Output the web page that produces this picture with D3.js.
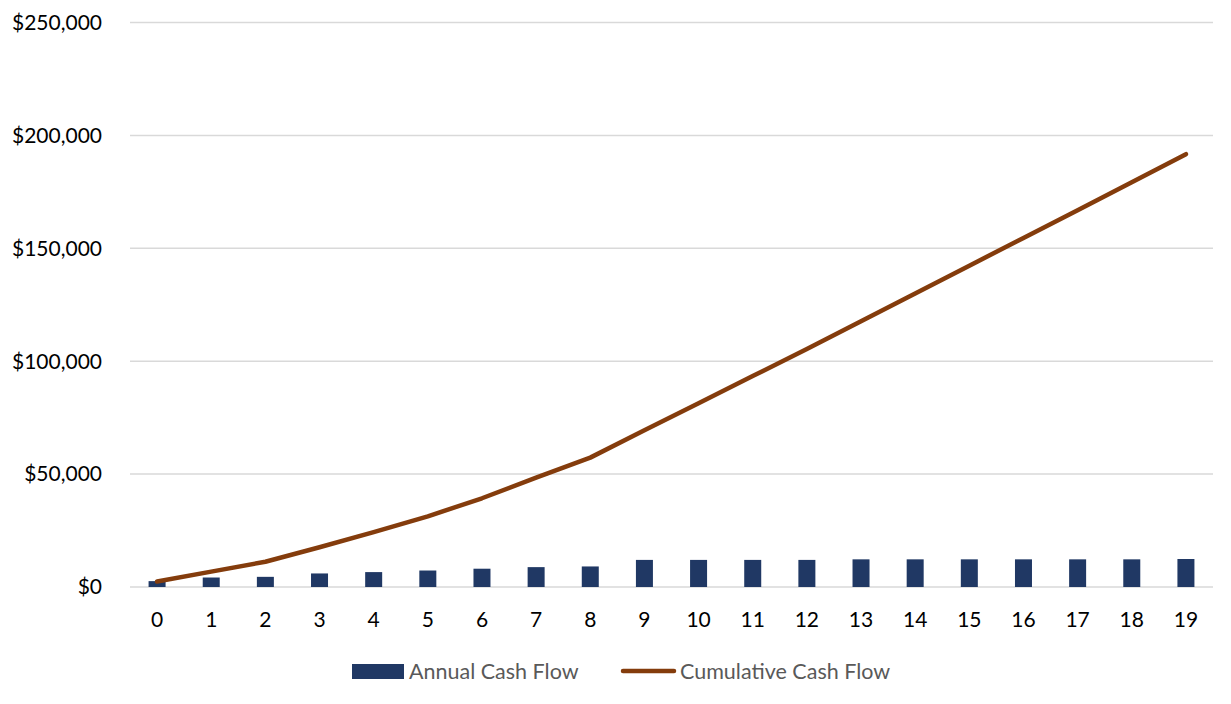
<!DOCTYPE html>
<meta charset="utf-8">
<style>
    body { margin: 0; background: #fff; }
    text { font-family: Lato, "Open Sans", sans-serif; fill: #000; }
    .grid line { stroke: #d9d9d9; stroke-width: 1.5px; }
</style>
<body>
<script src="https://d3js.org/d3.v7.min.js"></script>
<script>
    var width = 1231,
        height = 704;

    var years = d3.range(0, 20).map(String);
    var annual = [2600, 4200, 4500, 6000, 6600, 7300, 8100, 8800, 9100, 12000,
                  12000, 12000, 12000, 12250, 12250, 12250, 12250, 12250, 12250, 12400];
    var cumulative = [2400, 6800, 11200, 17600, 24300, 31300, 39300, 48400, 57300, 69400,
                      81400, 93400, 105400, 117700, 130000, 142300, 154600, 166900, 179200, 191700];
    var yTicks = [0, 50000, 100000, 150000, 200000, 250000];

    var x = d3.scaleBand().domain(years).range([130, 1213]);
    var y = d3.scaleLinear().domain([0, 250000]).range([587, 22.5]);

    var svg = d3.select("body").append("svg")
        .attr("width", width)
        .attr("height", height);

    // gridlines
    svg.append("g").attr("class", "grid")
        .selectAll("line")
        .data(yTicks)
        .enter().append("line")
        .attr("x1", 130).attr("x2", 1213)
        .attr("y1", function (d) { return y(d); })
        .attr("y2", function (d) { return y(d); });

    // y labels
    var fmt = d3.format(",");
    svg.append("g")
        .selectAll("text")
        .data(yTicks)
        .enter().append("text")
        .attr("x", 102)
        .attr("y", function (d) { return y(d); })
        .attr("dy", "0.35em")
        .attr("text-anchor", "end")
        .style("font-size", "21px")
        .text(function (d) { return "$" + fmt(d); });

    // x labels
    svg.append("g")
        .selectAll("text")
        .data(years)
        .enter().append("text")
        .attr("x", function (d) { return x(d) + x.bandwidth() / 2; })
        .attr("y", 620)
        .attr("dy", "0.35em")
        .attr("text-anchor", "middle")
        .style("font-size", "21px")
        .text(function (d) { return d; });

    // bars
    var barW = 17;
    svg.append("g")
        .selectAll("rect")
        .data(annual)
        .enter().append("rect")
        .attr("x", function (d, i) { return x(years[i]) + x.bandwidth() / 2 - barW / 2; })
        .attr("y", function (d) { return y(d); })
        .attr("width", barW)
        .attr("height", function (d) { return y(0) - y(d); })
        .attr("fill", "#203864");

    // cumulative line
    var line = d3.line()
        .x(function (d, i) { return x(years[i]) + x.bandwidth() / 2; })
        .y(function (d) { return y(d); });

    svg.append("path")
        .datum(cumulative)
        .attr("d", line)
        .attr("fill", "none")
        .attr("stroke", "#843c0c")
        .attr("stroke-width", 4.5)
        .attr("stroke-linecap", "round")
        .attr("stroke-linejoin", "round");

    // legend
    var legend = svg.append("g");
    legend.append("rect")
        .attr("x", 352).attr("y", 664)
        .attr("width", 52).attr("height", 15)
        .attr("fill", "#203864");
    legend.append("text")
        .attr("x", 409).attr("y", 671)
        .attr("dy", "0.35em")
        .style("font-size", "21.5px")
        .style("fill", "#595959")
        .text("Annual Cash Flow");
    legend.append("line")
        .attr("x1", 623).attr("x2", 674)
        .attr("y1", 671).attr("y2", 671)
        .attr("stroke", "#843c0c")
        .attr("stroke-width", 4.5)
        .attr("stroke-linecap", "round");
    legend.append("text")
        .attr("x", 680).attr("y", 671)
        .attr("dy", "0.35em")
        .style("font-size", "21.5px")
        .style("fill", "#595959")
        .text("Cumulative Cash Flow");
</script>
</body>
